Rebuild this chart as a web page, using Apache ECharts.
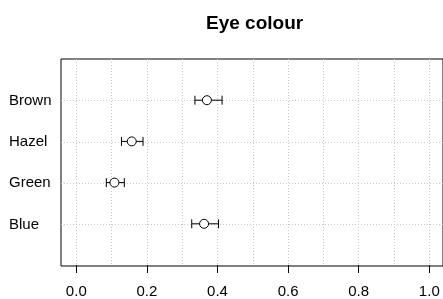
<!DOCTYPE html>
<html><head><meta charset="utf-8">
<script src="https://cdn.jsdelivr.net/npm/echarts@6/dist/echarts.min.js"></script>
<style>html,body{margin:0;padding:0;background:#fff}#c{width:443px;height:299px}</style>
</head><body><div id="c"></div>
<script>
var categories = ['Blue', 'Green', 'Hazel', 'Brown'];
var estimates = [0.362, 0.108, 0.157, 0.370];
var lower = [0.327, 0.085, 0.128, 0.336];
var upper = [0.403, 0.136, 0.189, 0.413];
var xTicks = [0, 0.2, 0.4, 0.6, 0.8, 1.0];

var FONT = '"Liberation Sans", Arial, sans-serif';
var GRID = '#c8c8c8';
var pts = categories.map(function (c, i) { return [estimates[i], i + 1]; });
var bars = categories.map(function (c, i) { return [lower[i], upper[i], i + 1]; });

var chart = echarts.init(document.getElementById('c'), null, {renderer: 'canvas'});
chart.setOption({
  animation: false,
  backgroundColor: '#fff',
  title: {
    text: 'Eye colour', left: 201, top: 9,
    textStyle: {fontFamily: FONT, fontSize: 19, fontWeight: 'bold', color: '#000'}
  },
  grid: [
    {left: 61, top: 59, width: 383, height: 207, show: true, borderColor: '#000', borderWidth: 1, backgroundColor: 'transparent', z: 0},
    {left: 76.3, top: 59, width: 353, height: 207}
  ],
  xAxis: [
    {gridIndex: 0, type: 'value', min: 0, max: 1, show: false},
    {gridIndex: 1, type: 'value', min: xTicks[0], max: xTicks[xTicks.length - 1], interval: 0.2,
      axisLine: {show: false},
      axisTick: {show: true, length: 8, lineStyle: {color: '#000', width: 1}},
      axisLabel: {fontFamily: FONT, fontSize: 15, color: '#000', margin: 19,
        formatter: function (v) { return v.toFixed(1); }},
      splitLine: {show: true, lineStyle: {color: GRID, type: [1, 2], width: 1}},
      minorTick: {show: false, splitNumber: 2},
      minorSplitLine: {show: true, lineStyle: {color: GRID, type: [1, 2], width: 1}}
    }
  ],
  yAxis: [
    {gridIndex: 0, type: 'value', min: 0, max: 5, interval: 1,
      axisLine: {show: false}, axisTick: {show: false},
      axisLabel: {fontFamily: FONT, fontSize: 15, color: '#000', align: 'left', margin: 52,
        formatter: function (v) { return categories[v - 1] || ''; }},
      splitLine: {show: true, showMinLine: false, showMaxLine: false,
        lineStyle: {color: GRID, type: [1, 2], width: 1}}
    },
    {gridIndex: 1, type: 'value', min: 0, max: 5, show: false}
  ],
  series: [
    {
      type: 'custom', xAxisIndex: 1, yAxisIndex: 1, data: bars, z: 3,
      renderItem: function (params, api) {
        var a = api.coord([api.value(0), api.value(2)]);
        var b = api.coord([api.value(1), api.value(2)]);
        var h = 4.5;
        var st = {stroke: '#000', lineWidth: 1};
        return {type: 'group', children: [
          {type: 'line', shape: {x1: a[0], y1: a[1], x2: b[0], y2: b[1]}, style: st},
          {type: 'line', shape: {x1: a[0], y1: a[1] - h, x2: a[0], y2: a[1] + h}, style: st},
          {type: 'line', shape: {x1: b[0], y1: b[1] - h, x2: b[0], y2: b[1] + h}, style: st}
        ]};
      }
    },
    {
      type: 'scatter', xAxisIndex: 1, yAxisIndex: 1, data: pts, z: 4,
      symbol: 'circle', symbolSize: 9,
      itemStyle: {color: '#fff', borderColor: '#000', borderWidth: 1, opacity: 1}
    }
  ]
});
</script></body></html>
